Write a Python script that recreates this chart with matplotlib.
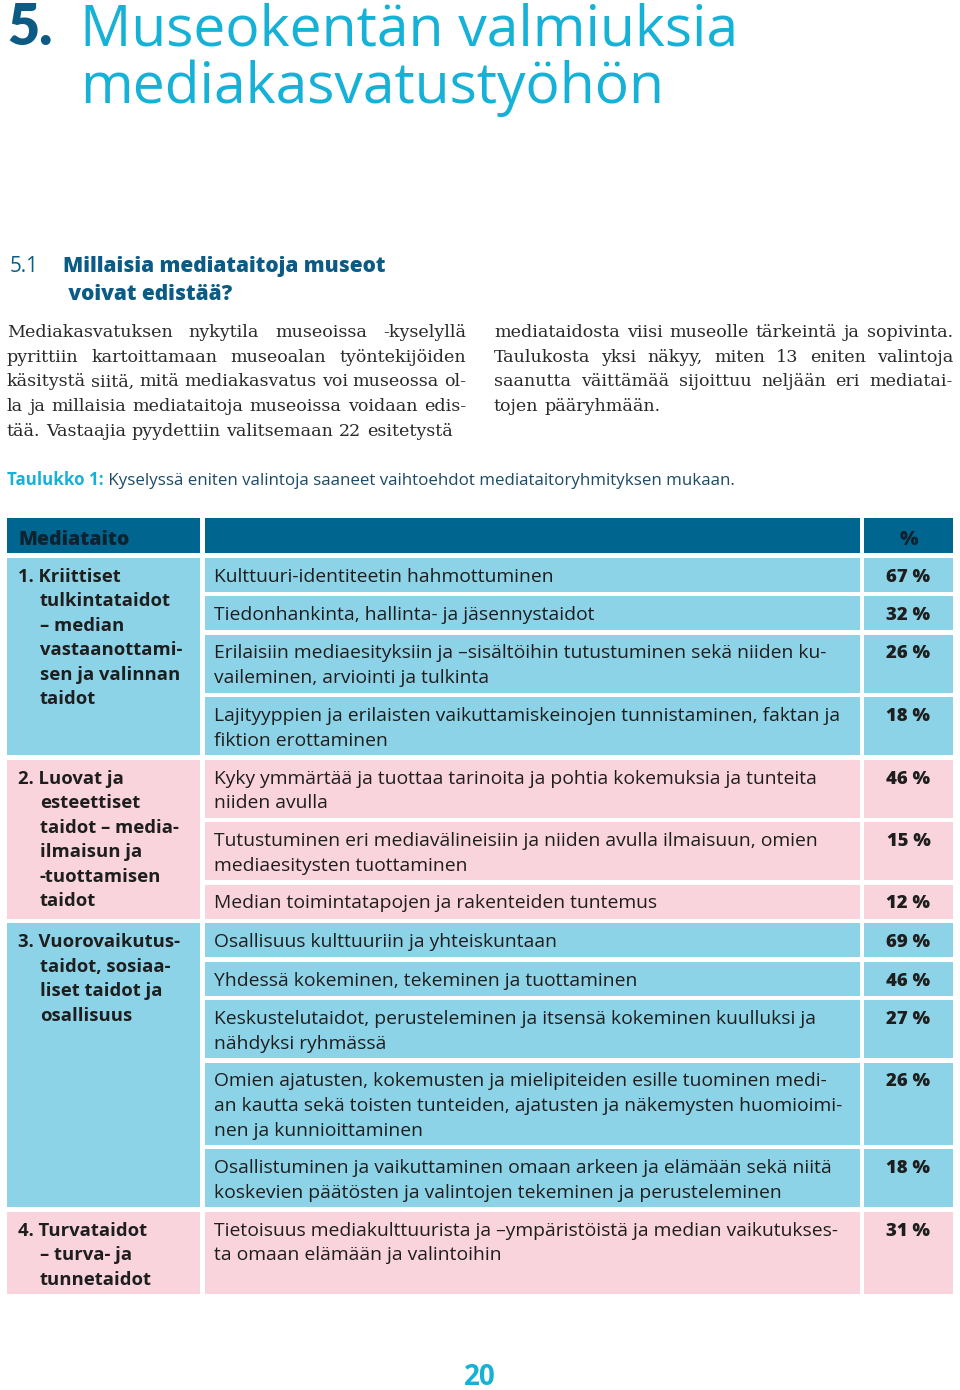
import matplotlib
matplotlib.use("Agg")
import matplotlib.pyplot as plt
from matplotlib.patches import Rectangle

# ---------------- data ----------------
title_num = "5."
title_lines = ["Museokentän valmiuksia", "mediakasvatustyöhön"]
section_num = "5.1"
section_lines = ["Millaisia mediataitoja museot", " voivat edistää?"]

body_left = [
    "Mediakasvatuksen nykytila museoissa -kyselyllä",
    "pyrittiin kartoittamaan museoalan työntekijöiden",
    "käsitystä siitä, mitä mediakasvatus voi museossa ol-",
    "la ja millaisia mediataitoja museoissa voidaan edis-",
    "tää. Vastaajia pyydettiin valitsemaan 22 esitetystä",
]
body_right = [
    "mediataidosta viisi museolle tärkeintä ja sopivinta.",
    "Taulukosta yksi näkyy, miten 13 eniten valintoja",
    "saanutta väittämää sijoittuu neljään eri mediatai-",
    "tojen pääryhmään.",
]
caption_bold = "Taulukko 1:"
caption_text = " Kyselyssä eniten valintoja saaneet vaihtoehdot mediataitoryhmityksen mukaan."

header = ["Mediataito", "", "%"]

group_labels = [
    ["1. Kriittiset", "tulkintataidot", "– median", "vastaanottami-", "sen ja valinnan", "taidot"],
    ["2. Luovat ja", "esteettiset", "taidot – media-", "ilmaisun ja", "-tuottamisen", "taidot"],
    ["3. Vuorovaikutus-", "taidot, sosiaa-", "liset taidot ja", "osallisuus"],
    ["4. Turvataidot", "– turva- ja", "tunnetaidot"],
]
group_items = [
    [
        ["Kulttuuri-identiteetin hahmottuminen"],
        ["Tiedonhankinta, hallinta- ja jäsennystaidot"],
        ["Erilaisiin mediaesityksiin ja –sisältöihin tutustuminen sekä niiden ku-",
         "vaileminen, arviointi ja tulkinta"],
        ["Lajityyppien ja erilaisten vaikuttamiskeinojen tunnistaminen, faktan ja",
         "fiktion erottaminen"],
    ],
    [
        ["Kyky ymmärtää ja tuottaa tarinoita ja pohtia kokemuksia ja tunteita",
         "niiden avulla"],
        ["Tutustuminen eri mediavälineisiin ja niiden avulla ilmaisuun, omien",
         "mediaesitysten tuottaminen"],
        ["Median toimintatapojen ja rakenteiden tuntemus"],
    ],
    [
        ["Osallisuus kulttuuriin ja yhteiskuntaan"],
        ["Yhdessä kokeminen, tekeminen ja tuottaminen"],
        ["Keskustelutaidot, perusteleminen ja itsensä kokeminen kuulluksi ja",
         "nähdyksi ryhmässä"],
        ["Omien ajatusten, kokemusten ja mielipiteiden esille tuominen medi-",
         "an kautta sekä toisten tunteiden, ajatusten ja näkemysten huomioimi-",
         "nen ja kunnioittaminen"],
        ["Osallistuminen ja vaikuttaminen omaan arkeen ja elämään sekä niitä",
         "koskevien päätösten ja valintojen tekeminen ja perusteleminen"],
    ],
    [
        ["Tietoisuus mediakulttuurista ja –ympäristöistä ja median vaikutukses-",
         "ta omaan elämään ja valintoihin"],
    ],
]
group_pct = [[67, 32, 26, 18], [46, 15, 12], [69, 46, 27, 26, 18], [31]]
page_number = "20"

# ---------------- style ----------------
CYAN = "#16b1d6"
DARK_BLUE = "#0b5b85"
HEAD = "#00668f"
BLUE_ROW = "#8dd3e8"
PINK_ROW = "#f9d4dc"
TXT = "#1e1e1e"
group_colors = [BLUE_ROW, PINK_ROW, BLUE_ROW, PINK_ROW]
SANS = "Open Sans"
SERIF = "DejaVu Serif"

fig = plt.figure(figsize=(9.6, 13.9), dpi=100)
ax = fig.add_axes([0, 0, 1, 1])
ax.set_xlim(0, 960)
ax.set_ylim(1390, 0)
ax.axis("off")
renderer = fig.canvas.get_renderer()


def text_width(t):
    return t.get_window_extent(renderer=renderer).width


def justified(x, y, width, lines, lh, **kw):
    probe1 = ax.text(0, 0, "a a", **kw)
    probe2 = ax.text(0, 0, "aa", **kw)
    space = text_width(probe1) - text_width(probe2)
    probe1.remove()
    probe2.remove()
    for i, line in enumerate(lines):
        words = line.split(" ")
        objs = [ax.text(0, y + i * lh, w, va="baseline", ha="left", **kw) for w in words]
        widths = [text_width(o) for o in objs]
        if i < len(lines) - 1 and len(words) > 1:
            gap = (width - sum(widths)) / (len(words) - 1)
        else:
            gap = space
        cx = x
        for o, w in zip(objs, widths):
            o.set_x(cx)
            cx += w + gap


# title
ax.text(7, 45, title_num, fontsize=40, fontweight="heavy", color=DARK_BLUE, family="Lato", va="baseline")
for i, ln in enumerate(title_lines):
    ax.text(80, 45 + i * 58, ln, fontsize=41, fontweight="medium", color=CYAN, family=SANS, va="baseline")

# section heading
ax.text(10, 272, section_num, fontsize=14.8, color=DARK_BLUE, family=SANS, va="baseline")
for i, ln in enumerate(section_lines):
    ax.text(63, 272 + i * 28, ln, fontsize=15, fontweight="heavy", color=DARK_BLUE, family=SANS, va="baseline")

# body text
justified(7, 337, 459, body_left, 24.7, fontsize=12.6, family=SERIF, color="#2a2a2a")
justified(494, 337, 459, body_right, 24.7, fontsize=12.6, family=SERIF, color="#2a2a2a")

# caption
t = ax.text(7, 485, caption_bold, fontsize=12.2, fontweight="bold", color=CYAN, family=SANS, va="baseline")
ax.text(7 + text_width(t), 485, caption_text, fontsize=12.2, color="#1d4a66", family=SANS, va="baseline")

# table
col_x = [7, 205, 864]
col_w = [193, 655, 89]
gap = 4.5
lh = 24.6

def row_h(n):
    return 10 + 24 * n

top = 518
for cx, cw in zip(col_x, col_w):
    ax.add_patch(Rectangle((cx, top), cw, 35, color=HEAD, lw=0))
ax.text(18, 545, header[0], fontsize=14, fontweight="heavy", color="#0f2230", family=SANS, va="baseline")
ax.text(col_x[2] + col_w[2] / 2, 545, header[2], fontsize=14, fontweight="heavy", color="#0f2230",
        family=SANS, va="baseline", ha="center")

y = top + 35 + gap
tkw = dict(family=SANS, color=TXT, va="baseline")
for g, (labels, items, pcts) in enumerate(zip(group_labels, group_items, group_pct)):
    color = group_colors[g]
    heights = [row_h(len(it)) for it in items]
    total = sum(heights) + gap * (len(items) - 1)
    total = max(total, row_h(len(labels)))
    ax.add_patch(Rectangle((col_x[0], y), col_w[0], total, color=color, lw=0))
    for i, lab in enumerate(labels):
        ax.text(18 if i == 0 else 40, y + 24 + i * lh, lab, fontsize=13.3, fontweight="bold", **tkw)
    ry = y
    for k, (it, p) in enumerate(zip(items, pcts)):
        h = heights[k]
        if k == len(items) - 1:
            h = y + total - ry
        ax.add_patch(Rectangle((col_x[1], ry), col_w[1], h, color=color, lw=0))
        ax.add_patch(Rectangle((col_x[2], ry), col_w[2], h, color=color, lw=0))
        for j, ln in enumerate(it):
            ax.text(214, ry + 24 + j * lh, ln, fontsize=13.9, **tkw)
        ax.text(col_x[2] + col_w[2] / 2, ry + 24, f"{p} %", fontsize=13.3, fontweight="heavy",
                ha="center", **tkw)
        ry += h + gap
    y += total + gap

# page number
ax.text(480, 1385, page_number, fontsize=20, fontweight="bold", color=CYAN, family=SANS,
        va="baseline", ha="center")

fig.savefig("out.png", dpi=100)
